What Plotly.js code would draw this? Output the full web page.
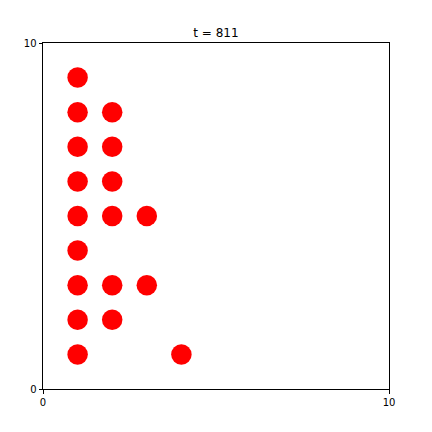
<!DOCTYPE html>
<html><head><meta charset="utf-8">
<script src="https://cdn.plot.ly/plotly-3.0.1.min.js"></script>
<style>html,body{margin:0;padding:0;background:#fff;}#plot{width:432px;height:432px;}</style>
</head><body><div id="plot"></div>
<script>
const xValues = [1,1,1,1,1,1,1,1,1, 2,2,2,2,2,2, 3,3, 4];
const yValues = [9,8,7,6,5,4,3,2,1, 8,7,6,5,3,2, 5,3, 1];
const titleText = 't = 811';
const tickVals = [0, 10];
const tickText = ['0', '10'];

const font = {family: 'DejaVu Sans', size: 10, color: '#000'};
Plotly.newPlot('plot', [{
  x: xValues, y: yValues, type: 'scatter', mode: 'markers',
  marker: {color: '#ff0000', size: 20.5, line: {width: 0}},
  hoverinfo: 'none', cliponaxis: false
}], {
  width: 432, height: 432,
  margin: {l: 43, r: 43, t: 43, b: 43},
  paper_bgcolor: '#fff', plot_bgcolor: '#fff',
  showlegend: false,
  title: {text: titleText, x: 0.5, xanchor: 'center', y: 1 - 33/432, yanchor: 'middle', font: {family: 'DejaVu Sans', size: 12, color: '#000'}},
  xaxis: {range: [0, 10], tickvals: tickVals, ticktext: tickText, showgrid: false, zeroline: false,
    showline: true, linecolor: '#000', linewidth: 1, mirror: true, ticks: 'outside', ticklen: 3.5, tickwidth: 1, tickcolor: '#000', tickfont: font, fixedrange: true},
  yaxis: {range: [0, 10], tickvals: tickVals, ticktext: tickText, showgrid: false, zeroline: false,
    showline: true, linecolor: '#000', linewidth: 1, mirror: true, ticks: 'outside', ticklen: 3.5, tickwidth: 1, tickcolor: '#000', tickfont: font, fixedrange: true}
}, {staticPlot: true});
</script></body></html>
